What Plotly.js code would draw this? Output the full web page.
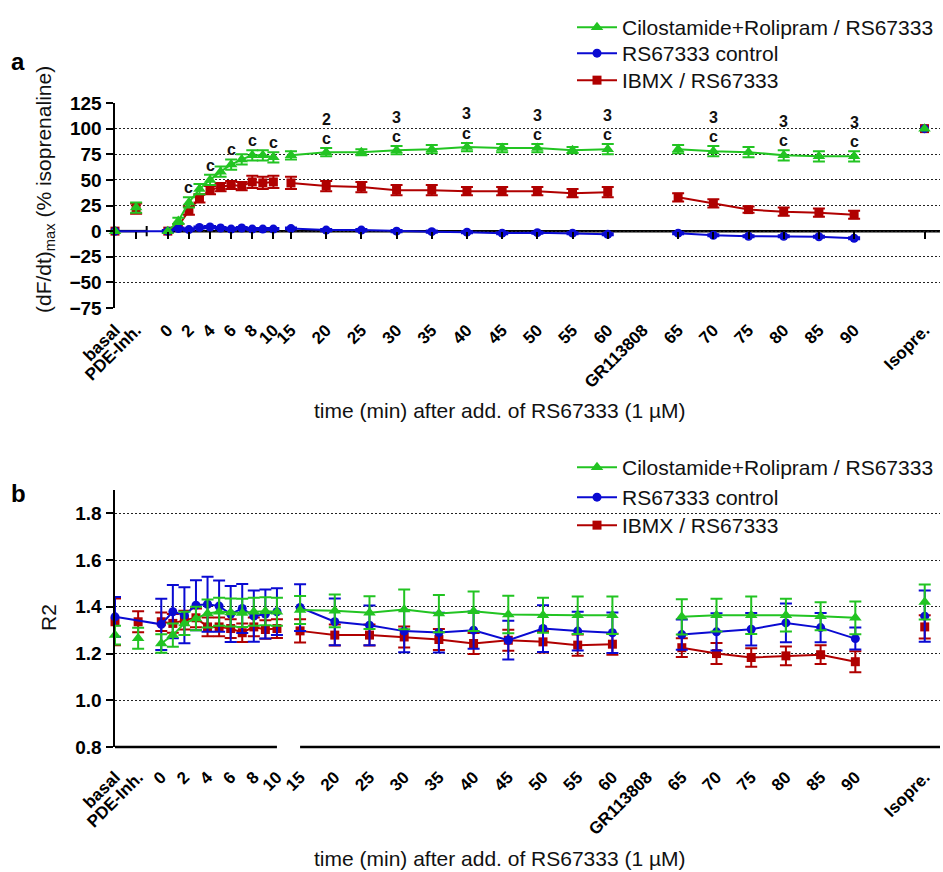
<!DOCTYPE html>
<html><head><meta charset="utf-8">
<script src="https://cdn.plot.ly/plotly-3.0.1.min.js"></script>
<style>html,body{margin:0;padding:0;background:#fff}#chart{width:943px;height:872px}</style>
</head><body><div id="chart"></div>
<script>
// ---------- categories ----------
const timeLabels = ['basal','PDE-Inh.',0,1,2,3,4,5,6,7,8,9,10,15,20,25,30,35,40,45,50,55,60,65,70,75,80,85,90,'Isopre.'];
const tickLabels = ['basal','PDE-Inh.',0,2,4,6,8,10,15,20,25,30,35,40,45,50,55,60,'GR113808',65,70,75,80,85,90,'Isopre.'];
const seriesNames = ['Cilostamide+Rolipram / RS67333','RS67333 control','IBMX / RS67333'];

// ---------- panel a: (dF/dt)max (% isoprenaline) ----------
const cilA    = [0,23, 0,10,28,41,50,58,65,70,74,74,72, 74,77,77,79,80,82,81,81,79,80, 80,78,77,74,73,73, 100];
const cilAErr = [null,5, null,3,5,5,5,5,5,5,5,5,5, 4,4,3,4,4,4,4,4,3,5, 4,5,5,5,5,5, null];
const ctlA    = [0,null, 0,2.5,1.5,3.5,4,3,2,3,2,2,2, 2.5,1,1,0,-0.5,-1,-2,-1.5,-2,-3, -2,-4,-5,-5,-5.5,-7, 100];
const ctlAErr = [null,null, 1,1,1,1,1,1,1,1,1,1,1, 1,1,1,1,1,1,1,1,1,1, 1,1,1,1,1,1, null];
const ibmxA    = [0,22, 0,5,20,32,40,43,45,44,48,47,48, 47,44,43,40,40,39,39,39,37,38, 33,27,21,19,18,16, 100];
const ibmxAErr = [null,5, null,2,4,4,4,4,4,4,6,6,6, 6,5,5,5,5,4,4,4,4,5, 4,4,3,4,4,4, null];

// ---------- panel b: R2 ----------
const cilB    = [1.279,1.265, 1.243,1.279,1.329,1.350,1.371,1.379,1.376,1.374,1.379,1.381,1.379, 1.386,1.383,1.375,1.389,1.371,1.381,1.367,1.364,1.364,1.364, 1.357,1.364,1.364,1.364,1.360,1.353, 1.421];
const cilBErr = [0.04,0.045, 0.04,0.05,0.05,0.05,0.06,0.06,0.06,0.06,0.06,0.06,0.06, 0.06,0.07,0.07,0.085,0.08,0.085,0.08,0.075,0.08,0.08, 0.075,0.07,0.08,0.07,0.06,0.07, 0.075];
const ctlB    = [1.357,null, 1.325,1.379,1.364,1.407,1.411,1.403,1.369,1.393,1.360,1.369,1.379, 1.397,1.336,1.321,1.296,1.290,1.300,1.257,1.307,1.296,1.289, 1.281,1.293,1.304,1.331,1.311,1.264, 1.360];
const ctlBErr = [0.085,null, 0.11,0.114,0.12,0.107,0.118,0.11,0.12,0.105,0.11,0.105,0.1, 0.1,0.1,0.085,0.09,0.085,0.08,0.083,0.1,0.083,0.087, 0.065,0.08,0.07,0.083,0.063,0.047, 0.11];
const ibmxB    = [1.336,1.336, 1.336,1.329,1.343,1.353,1.314,1.314,1.307,1.289,1.314,1.303,1.307, 1.297,1.279,1.279,1.271,1.260,1.243,1.257,1.250,1.236,1.240, 1.225,1.200,1.183,1.190,1.195,1.165, 1.314];
const ibmxBErr = [0.1,0.045, 0.04,0.04,0.04,0.04,0.04,0.04,0.04,0.04,0.04,0.04,0.04, 0.05,0.045,0.045,0.045,0.045,0.045,0.045,0.045,0.045,0.045, 0.04,0.045,0.04,0.04,0.04,0.045, 0.05];

// significance labels (panel a)
const sigTimes = [2,4,6,8,10,20,30,40,50,60,70,80,90];
const sigNums  = ['','','','','','2','3','3','3','3','3','3','3'];

// ---------- styling ----------
const W = 943, H = 872;
const FONT = 'Arial, "Liberation Sans", sans-serif';
const colors = ['#22c422', '#0a0ad2', '#b00000'];
const symbols = ['triangle-up', 'circle', 'square'];
const markerSizes = [11, 9, 9];

// piecewise category scales (axis units = one 5-min slot)
function segOf(l){
  if (l === 'basal') return 'b'; if (l === 'PDE-Inh.') return 'p';
  if (l === 'Isopre.') return 'i'; if (l === 'GR113808') return 'g';
  if (l <= 10) return 's1'; if (l <= 60) return 's2'; return 's3';
}
function posA(l){
  if (l === 'basal') return -1.5; if (l === 'PDE-Inh.') return -0.9;
  if (l === 'GR113808') return 13.5; if (l === 'Isopre.') return 21.5;
  if (l <= 10) return l * 0.3; if (l <= 60) return 3.5 + (l - 15) / 5; return 14.5 + (l - 65) / 5;
}
function posB(l){
  if (l === 'basal') return -4/3; if (l === 'PDE-Inh.') return -2/3;
  if (l === 'GR113808') return 14; if (l === 'Isopre.') return 22;
  if (l <= 10) return l / 3; if (l <= 60) return 4 + (l - 15) / 5; return 15 + (l - 65) / 5;
}

const xDom = [115 / W, 940 / W];
const yDomA = [1 - 308 / H, 1 - 103 / H];
const yDomB = [1 - 747 / H, 1 - 490 / H];
const rangeA = [-1.5, 21.94];
const rangeB = [-4/3, 22.44];
const yRangeA = [-75, 125];
const yRangeB = [0.8, 1.9];

function build(vals, errs, pos){
  const x = [], y = [], e = [];
  let prev = null;
  timeLabels.forEach((l, i) => {
    if (vals[i] === null) { prev = null; return; }
    const s = segOf(l);
    if (prev !== null && s !== prev) { x.push(null); y.push(null); e.push(null); }
    x.push(pos(l)); y.push(vals[i]); e.push(errs[i] === null ? NaN : errs[i]);
    prev = s;
  });
  return {x, y, e};
}

// legend layout: one legend per entry so the spacing matches
const legendTopA = [7, 33, 60];
const legendTopB = [447, 477, 505];

const traces = [];
const panelA = [[cilA, cilAErr], [ctlA, ctlAErr], [ibmxA, ibmxAErr]];
const panelB = [[cilB, cilBErr], [ctlB, ctlBErr], [ibmxB, ibmxBErr]];
const legendIdsA = ['legend', 'legend2', 'legend3'];
const legendIdsB = ['legend4', 'legend5', 'legend6'];
function makeTrace(d, k, xa, ya, leg){
  return {
    type: 'scatter', mode: 'lines+markers', x: d.x, y: d.y, xaxis: xa, yaxis: ya,
    name: seriesNames[k], legend: leg, showlegend: true,
    line: {color: colors[k], width: 2},
    marker: {color: colors[k], symbol: symbols[k], size: markerSizes[k]},
    error_y: {type: 'data', array: d.e, visible: true, color: colors[k], thickness: 2, width: 6},
    cliponaxis: false, hoverinfo: 'skip'
  };
}
[2, 1, 0].forEach(k => traces.push(makeTrace(build(panelA[k][0], panelA[k][1], posA), k, 'x', 'y', legendIdsA[k])));
[2, 1, 0].forEach(k => traces.push(makeTrace(build(panelB[k][0], panelB[k][1], posB), k, 'x2', 'y2', legendIdsB[k])));
// invisible anchor trace so the tick-only axis at y = 0 is drawn
traces.push({type: 'scatter', mode: 'markers', x: [rangeA[0]], y: [yRangeA[0]], xaxis: 'x3', yaxis: 'y',
  marker: {opacity: 0}, showlegend: false, hoverinfo: 'skip'});

const tickLabelText = tickLabels.map(String);
const tickOnly = tickLabels.filter(l => l !== 'GR113808');
const yTicksA = [-75, -50, -25, 0, 25, 50, 75, 100, 125];
const yTicksB = [0.8, 1.0, 1.2, 1.4, 1.6, 1.8];

const tickFontX = {family: FONT, size: 17, color: '#000', weight: 'bold'};
const tickFontY = {family: FONT, size: 19, color: '#000', weight: 'bold'};
const zeroPosA = yDomA[0] + (0 - yRangeA[0]) / (yRangeA[1] - yRangeA[0]) * (yDomA[1] - yDomA[0]);

function paperX(p, range){ return xDom[0] + (p - range[0]) / (range[1] - range[0]) * (xDom[1] - xDom[0]); }

const shapes = [
  // panel a x axis at y = 0 (with break)
  {type: 'line', xref: 'x', yref: 'y', x0: rangeA[0], x1: -0.6, y0: 0, y1: 0, line: {color: '#000', width: 2.5}, layer: 'below'},
  {type: 'line', xref: 'x', yref: 'y', x0: -0.6, x1: -0.6, y0: -5, y1: 5, line: {color: '#000', width: 2}, layer: 'below'},
  {type: 'line', xref: 'x', yref: 'y', x0: posA(0), x1: rangeA[1], y0: 0, y1: 0, line: {color: '#000', width: 2.5}, layer: 'below'},
  // panel b x axis at bottom (with break)
  {type: 'line', xref: 'paper', yref: 'paper', x0: paperX(rangeB[0], rangeB), x1: paperX(posB(10), rangeB), y0: yDomB[0], y1: yDomB[0], line: {color: '#000', width: 2.5}, layer: 'above'},
  {type: 'line', xref: 'paper', yref: 'paper', x0: paperX(posB(15), rangeB), x1: xDom[1], y0: yDomB[0], y1: yDomB[0], line: {color: '#000', width: 2.5}, layer: 'above'}
];

const annotations = [
  {xref: 'paper', yref: 'paper', x: 18 / W, y: 1 - 62 / H, xanchor: 'center', yanchor: 'middle', text: '<b>a</b>', showarrow: false, font: {family: FONT, size: 24, color: '#000'}},
  {xref: 'paper', yref: 'paper', x: 18 / W, y: 1 - 493 / H, xanchor: 'center', yanchor: 'middle', text: '<b>b</b>', showarrow: false, font: {family: FONT, size: 24, color: '#000'}},
  {xref: 'paper', yref: 'paper', x: 500 / W, y: 1 - 410 / H, xanchor: 'center', yanchor: 'middle', text: 'time (min) after add. of RS67333 (1 µM)', showarrow: false, font: {family: FONT, size: 21, color: '#111'}},
  {xref: 'paper', yref: 'paper', x: 500 / W, y: 1 - 858 / H, xanchor: 'center', yanchor: 'middle', text: 'time (min) after add. of RS67333 (1 µM)', showarrow: false, font: {family: FONT, size: 21, color: '#111'}},
  {xref: 'paper', yref: 'paper', x: 45 / W, y: 1 - 190 / H, xanchor: 'center', yanchor: 'middle', text: '(dF/dt)<sub>max</sub> (% isoprenaline)', textangle: -90, showarrow: false, font: {family: FONT, size: 21, color: '#111'}},
  {xref: 'paper', yref: 'paper', x: 48 / W, y: 1 - 618 / H, xanchor: 'center', yanchor: 'middle', text: 'R2', textangle: -90, showarrow: false, font: {family: FONT, size: 21, color: '#111'}}
];
const sigFont = {family: FONT, size: 16, color: '#111', weight: 'bold'};
sigTimes.forEach((t, k) => {
  const i = timeLabels.indexOf(t);
  const top = cilA[i] + cilAErr[i];
  annotations.push({xref: 'x', yref: 'y', x: posA(t), y: top, yanchor: 'bottom', yshift: 2, height: 14, borderpad: 0,
    text: 'c', showarrow: false, font: sigFont});
  if (sigNums[k]) annotations.push({xref: 'x', yref: 'y', x: posA(t), y: top, yanchor: 'bottom', yshift: 20.5, height: 15, borderpad: 0,
    text: sigNums[k], showarrow: false, font: sigFont});
});

const gridStyle = {showgrid: true, gridcolor: '#222', gridwidth: 1, griddash: '2px,2px'};

const layout = {
  width: W, height: H, margin: {l: 0, r: 0, t: 0, b: 0},
  paper_bgcolor: '#fff', plot_bgcolor: 'rgba(0,0,0,0)',
  font: {family: FONT, color: '#000'},
  showlegend: true,
  xaxis: {domain: xDom, range: rangeA, anchor: 'y', tickmode: 'array', tickvals: tickLabels.map(posA), ticktext: tickLabelText,
    tickangle: -45, ticks: '', showline: false, showgrid: false, zeroline: false, tickfont: tickFontX, ticklabelstandoff: 8},
  xaxis3: {overlaying: 'x', anchor: 'free', position: zeroPosA, range: rangeA, tickmode: 'array', tickvals: tickOnly.filter(l => l !== 'basal').map(posA),
    ticks: 'outside', ticklen: 7, tickwidth: 2, tickcolor: '#000', showticklabels: false, showline: false, showgrid: false, zeroline: false},
  yaxis: Object.assign({domain: yDomA, range: yRangeA, anchor: 'x', tickmode: 'array', tickvals: yTicksA, ticks: 'outside', ticklen: 7, tickwidth: 2, tickcolor: '#000',
    showline: true, linewidth: 2.5, linecolor: '#000', zeroline: false, tickfont: tickFontY}, gridStyle),
  xaxis2: {domain: xDom, range: rangeB, anchor: 'y2', tickmode: 'array', tickvals: tickLabels.map(posB), ticktext: tickLabelText,
    tickangle: -45, ticks: '', showline: false, showgrid: false, zeroline: false, tickfont: tickFontX, ticklabelstandoff: 16},
  xaxis4: {overlaying: 'x2', anchor: 'y2', range: rangeB, tickmode: 'array', tickvals: tickOnly.map(posB),
    ticks: 'outside', ticklen: 7, tickwidth: 2, tickcolor: '#000', showticklabels: false, showline: false, showgrid: false, zeroline: false},
  yaxis2: Object.assign({domain: yDomB, range: yRangeB, anchor: 'x2', tickmode: 'array', tickvals: yTicksB, tickformat: '.1f', ticks: 'outside', ticklen: 7, tickwidth: 2, tickcolor: '#000',
    showline: true, linewidth: 2.5, linecolor: '#000', zeroline: false, tickfont: tickFontY}, gridStyle),
  shapes: shapes,
  annotations: annotations
};
const legendBase = {x: 572 / W, xanchor: 'left', yanchor: 'top', bgcolor: 'rgba(0,0,0,0)', borderwidth: 0,
  font: {family: FONT, size: 21, color: '#111'}, itemwidth: 40};
legendIdsA.forEach((id, k) => { layout[id] = Object.assign({}, legendBase, {y: 1 - legendTopA[k] / H}); });
legendIdsB.forEach((id, k) => { layout[id] = Object.assign({}, legendBase, {y: 1 - legendTopB[k] / H}); });

Plotly.newPlot('chart', traces, layout, {displayModeBar: false, staticPlot: true});
</script>
</body></html>
